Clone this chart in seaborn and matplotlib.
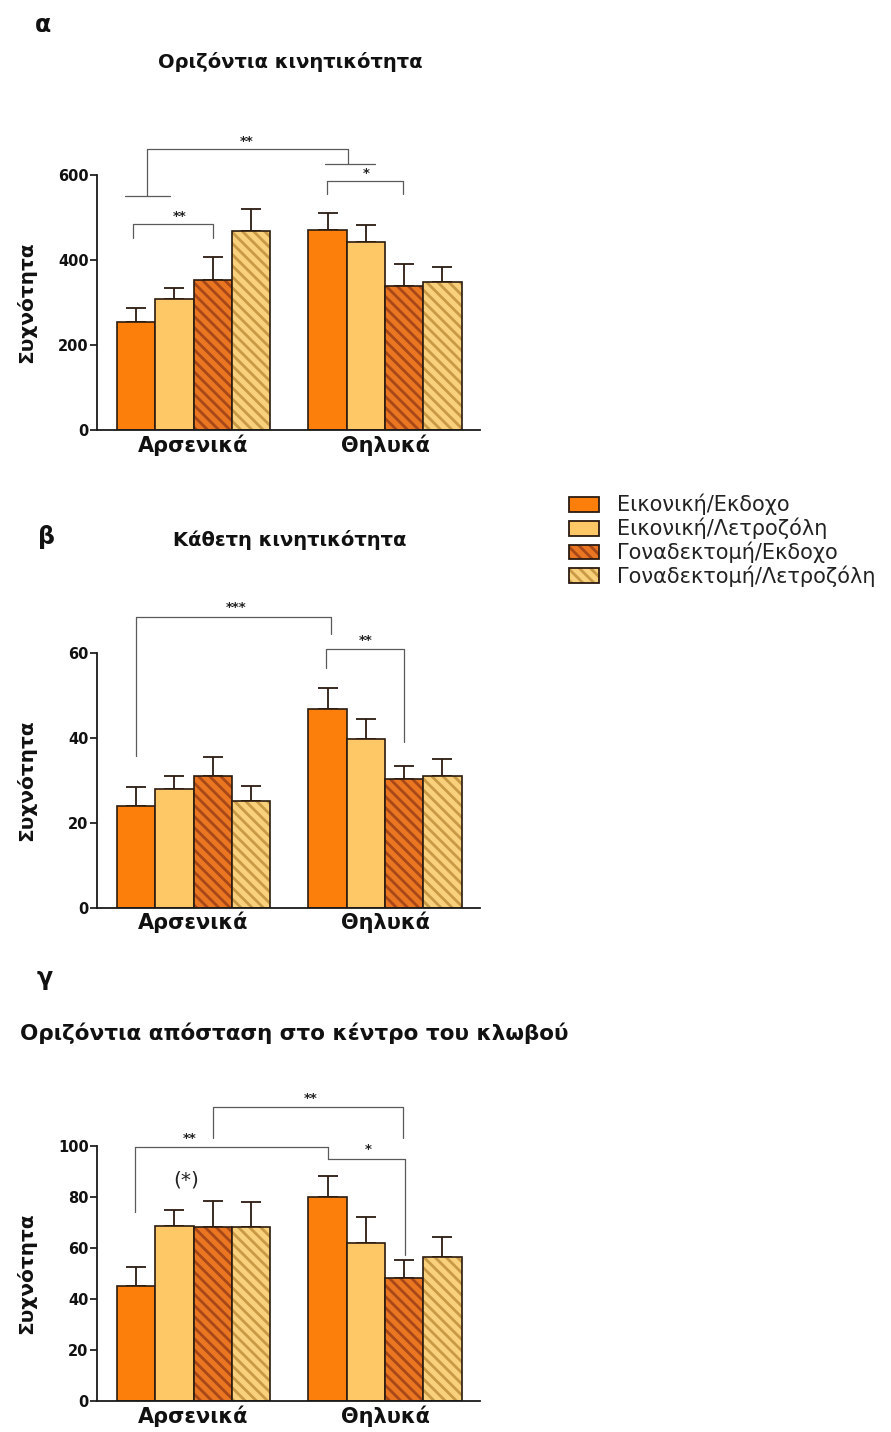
import numpy as np
import pandas as pd
import matplotlib
matplotlib.use("Agg")
import matplotlib.pyplot as plt
import matplotlib.colors as mcolors
from matplotlib.patches import Patch, Rectangle
import seaborn as sns

sns.set_theme(style="ticks")
plt.rcParams["font.family"] = ["DejaVu Sans"]
plt.rcParams["hatch.linewidth"] = 2.0

# ---------------- data ----------------
sexes = ["Αρσενικά", "Θηλυκά"]
groups = ["Εικονική/Εκδοχο", "Εικονική/Λετροζόλη",
          "Γοναδεκτομή/Εκδοχο", "Γοναδεκτομή/Λετροζόλη"]

# (α) Οριζόντια κινητικότητα
horiz_males = [253, 309, 354, 469]
horiz_males_sem = [33, 26, 54, 51]
horiz_females = [471, 443, 340, 349]
horiz_females_sem = [40, 40, 51, 35]

# (β) Κάθετη κινητικότητα
vert_males = [23.9, 28.0, 30.9, 25.2]
vert_males_sem = [4.5, 2.9, 4.5, 3.5]
vert_females = [46.7, 39.7, 30.3, 30.9]
vert_females_sem = [5.1, 4.7, 3.1, 4.1]

# (γ) Οριζόντια απόσταση στο κέντρο του κλωβού
center_males = [45.2, 68.8, 68.1, 68.1]
center_males_sem = [7.2, 6.1, 10.5, 9.9]
center_females = [80.1, 61.8, 48.4, 56.3]
center_females_sem = [8.3, 10.2, 6.9, 8.1]

titles = ["Οριζόντια κινητικότητα", "Κάθετη κινητικότητα",
          "Οριζόντια απόσταση στο κέντρο του κλωβού"]
panel_letters = ["α", "β", "γ"]
ylabel = "Συχνότητα"

# ---------------- style ----------------
face_colors = ["#FC7F0C", "#FFC866", "#EA7622", "#F9D07C"]
hatch_colors = [None, None, "#A84818", "#C99A45"]
hatches = [None, None, "\\\\\\", "\\\\\\"]
edge = "#2B1B10"
ann_color = "#5A5A5A"

W, H = 891, 1432
fig = plt.figure(figsize=(W / 100, H / 100), dpi=100)

ax_left = 97 / W
ax_w = (480 - 97) / W
ax_h = 255 / H
bottoms = [1 - 430 / H, 1 - 907.7 / H, 1 - 1401 / H]


def draw_panel(ax, males, females, m_sem, f_sem, ymax, step):
    df = pd.DataFrame({
        "sex": np.repeat(sexes, len(groups)),
        "group": groups * 2,
        "value": list(males) + list(females),
    })
    sns.barplot(data=df, x="sex", y="value", hue="group", order=sexes,
                hue_order=groups, palette=dict(zip(groups, face_colors)),
                saturation=1, edgecolor=edge, linewidth=1.2, errorbar=None,
                width=0.8, ax=ax, legend=False, zorder=2)
    bars = [p for p in ax.patches if isinstance(p, Rectangle)
            and p.get_height() > 0]
    bars.sort(key=lambda p: p.get_x())
    sems = list(m_sem) + list(f_sem)
    xs, ys = [], []
    for i, bar in enumerate(bars):
        gi = i % len(groups)
        if hatches[gi]:
            bar.set_hatch(hatches[gi])
            bar._hatch_color = mcolors.to_rgba(hatch_colors[gi])
        xs.append(bar.get_x() + bar.get_width() / 2)
        ys.append(bar.get_height())
    ax.errorbar(xs, ys, yerr=[np.zeros(len(xs)), sems], fmt="none",
                ecolor=edge, elinewidth=1.3, capsize=7, capthick=1.3,
                zorder=1.5)
    ax.set_xlim(-0.504, 1.496)
    ax.set_ylim(0, ymax)
    ticks = np.arange(0, ymax + 0.001, step)
    ax.set_yticks(ticks)
    ax.set_yticklabels([f"{int(v)}" for v in ticks],
                       fontsize=10.5, fontweight="bold")
    ax.set_xticks([0, 1])
    ax.set_xticklabels(sexes, fontsize=15, fontweight="bold")
    ax.tick_params(axis="x", length=0, pad=3, colors="#111111")
    ax.tick_params(axis="y", length=5, width=1.2, pad=1, colors="#111111")
    for s in ["top", "right"]:
        ax.spines[s].set_visible(False)
    for s in ["left", "bottom"]:
        ax.spines[s].set_linewidth(1.3)
        ax.spines[s].set_color("#1A1A1A")
    ax.set_xlabel("")
    ax.set_ylabel(ylabel, fontsize=14.5, fontweight="bold", color="#111111")
    ax.yaxis.set_label_coords(-0.16, 0.5)


def line(ax, xs, ys):
    ax.plot(xs, ys, color=ann_color, lw=0.9, clip_on=False, zorder=3)


def star(ax, x, y, s, size=9.5, weight="bold"):
    ax.text(x, y, s, ha="center", va="bottom", fontsize=size,
            fontweight=weight, color="#222222", clip_on=False)


axes = []
for i in range(3):
    ax = fig.add_axes([ax_left, bottoms[i], ax_w, ax_h])
    axes.append(ax)

draw_panel(axes[0], horiz_males, horiz_females, horiz_males_sem,
           horiz_females_sem, 600, 200)
draw_panel(axes[1], vert_males, vert_females, vert_males_sem,
           vert_females_sem, 60, 20)
draw_panel(axes[2], center_males, center_females, center_males_sem,
           center_females_sem, 100, 20)

# ---- annotations α ----
a = axes[0]
line(a, [-0.243, -0.243, 0.807, 0.807], [551, 661, 661, 626])
line(a, [-0.358, -0.123], [551, 551])
line(a, [0.687, 0.948], [626, 626])
star(a, 0.28, 664, "**")
line(a, [0.697, 0.697, 1.094, 1.094], [555, 586, 586, 555])
star(a, 0.9, 589, "*")
line(a, [-0.316, -0.316, 0.102, 0.102], [452, 485, 485, 452])
star(a, -0.07, 488, "**")

# ---- annotations β ----
b = axes[1]
line(b, [-0.3, -0.3, 0.72, 0.72], [35.8, 68.4, 68.4, 64.3])
star(b, 0.22, 69.0, "***")
line(b, [0.69, 0.69, 1.10, 1.10], [56.5, 60.8, 60.8, 38.9])
star(b, 0.9, 61.4, "**")

# ---- annotations γ ----
c = axes[2]
line(c, [-0.305, -0.305, 0.70, 0.70], [74.2, 99.7, 99.7, 94.9])
star(c, -0.02, 100.2, "**")
line(c, [0.70, 1.104, 1.104], [94.9, 94.9, 57.3])
star(c, 0.91, 96.0, "*")
line(c, [0.10, 0.10, 1.096, 1.096], [103.0, 115.4, 115.4, 103.3])
star(c, 0.61, 116.0, "**")
c.text(-0.036, 86.7, "(*)", ha="center", va="center", fontsize=14.5,
       color="#222222", clip_on=False)

# ---- titles & panel letters ----
title_specs = [(290, 62, 14), (290, 540, 14), (294, 1033, 15.5)]
for t, (x, y, fs) in zip(titles, title_specs):
    fig.text(x / W, 1 - y / H, t, ha="center", va="center", fontsize=fs,
             fontweight="bold", color="#111111")
letter_pos = [(43, 25), (47, 537), (45, 978)]
for l, (x, y) in zip(panel_letters, letter_pos):
    fig.text(x / W, 1 - y / H, l, ha="center", va="center", fontsize=17,
             fontweight="bold", color="#111111")

# ---- legend ----
handles = []
for gi, g in enumerate(groups):
    p = Patch(facecolor=face_colors[gi], edgecolor=edge, linewidth=1.3,
              hatch=hatches[gi] if hatches[gi] else None, label=g)
    if hatches[gi]:
        p._hatch_color = mcolors.to_rgba(hatch_colors[gi])
    handles.append(p)
fig.legend(handles=handles, loc="upper left",
           bbox_to_anchor=(569 / W, 1 - 494 / H), frameon=False,
           prop={"family": "DejaVu Sans", "size": 15},
           handlelength=1.45, handleheight=0.72, handletextpad=0.85,
           labelspacing=0.115, borderpad=0, borderaxespad=0,
           labelcolor="#222222")

fig.savefig("out.png", dpi=100)
